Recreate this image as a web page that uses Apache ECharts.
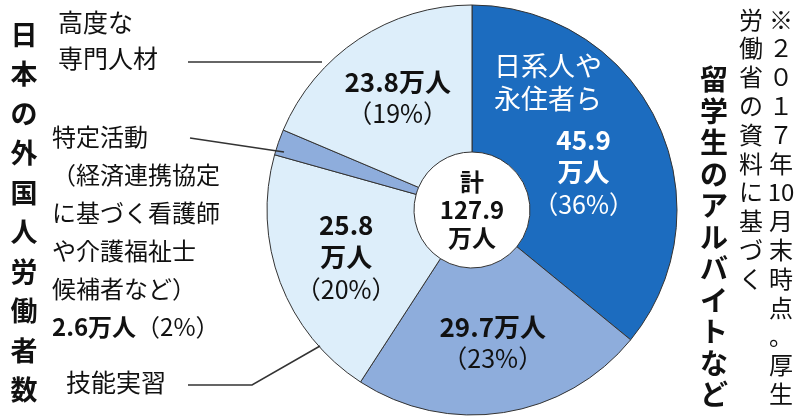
<!DOCTYPE html><html><head><meta charset="utf-8"><script src="https://cdn.jsdelivr.net/npm/echarts@6/dist/echarts.min.js"></script>
<style>body{margin:0}#c{width:799px;height:419px}</style></head><body><div id="c"></div><script>
const categories=['日系人や永住者ら','留学生のアルバイトなど','技能実習','特定活動','高度な専門人材'];
const values=[45.9,29.7,25.8,2.6,23.8];
const shares=[36,23,20,2,19];
const colors=['#1c6cbf','#8eaddc','#ddeefa','#8eaddc','#ddeefa'];
const F='"Noto Sans CJK JP"';
const labels=[
 '{b|'+values[0]+'}\n{b|万人}\n{n|（'+shares[0]+'%）}',
 '{b|'+values[1]+'万人}\n{n|（'+shares[1]+'%）}',
 '{b|'+values[2]+'}\n{b|万人}\n{n|（'+shares[2]+'%）}',
 '',
 '{b|'+values[4]+'万人}\n{n|（'+shares[4]+'%）}'];
const vt=(s)=>s.split('').join('\n');
const chart=echarts.init(document.getElementById('c'));
chart.setOption({animation:false,
series:[{type:'pie',center:[472,210],radius:[58,205],startAngle:90,clockwise:true,
 itemStyle:{borderColor:'#333',borderWidth:1},labelLine:{show:false},
 data:categories.map((c,i)=>({name:c,value:values[i],itemStyle:{color:colors[i]},
  label:{show:i!==3,position:'inside',formatter:labels[i],offset:i===0?[-10,20]:[0,0],
   rich:{b:{fontFamily:F,fontWeight:'bold',fontSize:26,lineHeight:32,color:i===0?'#fff':'#111'},
         n:{fontFamily:F,fontSize:25,lineHeight:32,color:i===0?'#fff':'#111'}}}}))}],
graphic:{elements:[
 {type:'text',z:100,x:472,y:210,style:{text:'計\n127.9\n万人',fontFamily:F,fontWeight:'bold',fontSize:24,lineHeight:28,fill:'#111',align:'center',verticalAlign:'middle'}},
 {type:'text',z:100,x:548,y:82,style:{text:'日系人や\n永住者ら',fontFamily:F,fontSize:27,lineHeight:33,fill:'#fff',align:'center',verticalAlign:'middle'}},
 {type:'text',z:100,x:24,y:212,style:{text:vt('日本の外国人労働者数'),fontFamily:F,fontWeight:'bold',fontSize:27,lineHeight:39.5,fill:'#111',align:'center',verticalAlign:'middle'}},
 {type:'text',z:100,x:714,y:237,style:{text:vt('留学生のアルバイトなど').replace('ー','｜'),fontFamily:F,fontWeight:'bold',fontSize:28,lineHeight:31.5,fill:'#111',align:'center',verticalAlign:'middle'}},
 {type:'text',z:100,x:781,y:5,style:{text:['※','２','０','１','７','年','10','月','末','時','点','。','厚','生'].join('\n'),fontFamily:F,fontSize:24,lineHeight:28.8,fill:'#111',align:'center'}},
 {type:'text',z:100,x:751,y:5,style:{text:vt('労働省の資料に基づく'),fontFamily:F,fontSize:24,lineHeight:28.8,fill:'#111',align:'center'}},
 {type:'text',z:100,x:58,y:4,style:{text:'高度な\n専門人材',fontFamily:F,fontSize:25,lineHeight:36,fill:'#111'}},
 {type:'line',z:100,shape:{x1:188,y1:62,x2:322,y2:62},style:{stroke:'#333',lineWidth:1.5}},
 {type:'text',z:100,x:52,y:118,style:{text:'特定活動\n（経済連携協定\nに基づく看護師\nや介護福祉士\n候補者など）\n{b|2.6万人}（2%）',fontFamily:F,fontSize:24,lineHeight:38,fill:'#111',rich:{b:{fontFamily:F,fontWeight:'bold',fontSize:24}}}},
 {type:'line',z:100,shape:{x1:190,y1:138,x2:284,y2:152},style:{stroke:'#333',lineWidth:1.5}},
 {type:'text',z:100,x:66,y:370,style:{text:'技能実習',fontFamily:F,fontSize:25,fill:'#111'}},
 {type:'polyline',z:100,shape:{points:[[188,385],[252,385],[320,346]]},style:{stroke:'#333',lineWidth:1.5,fill:null}}
]}});
</script></body></html>
